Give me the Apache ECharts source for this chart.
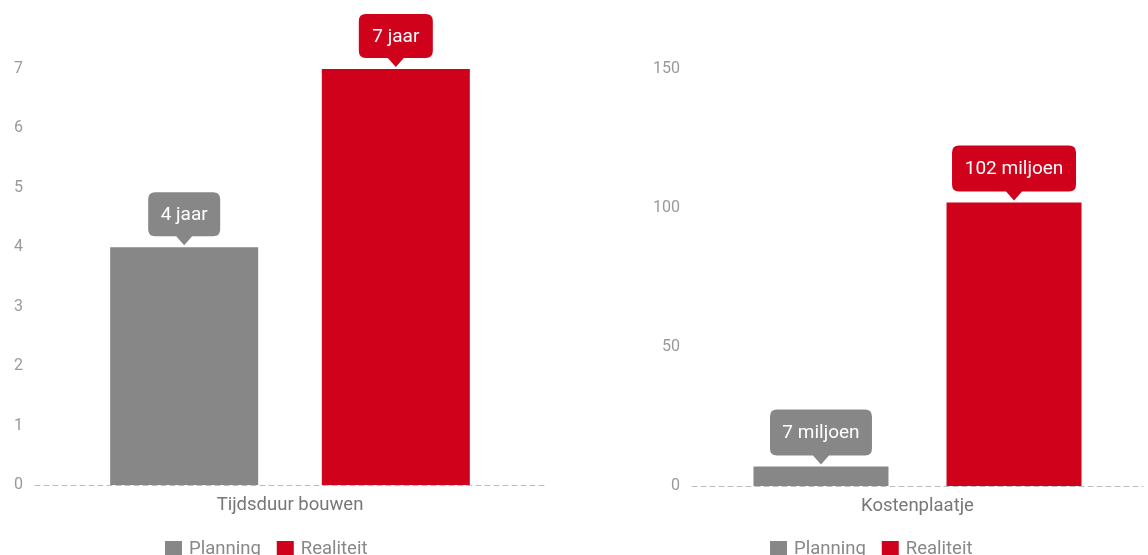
<!DOCTYPE html>
<html>
<head>
<meta charset="utf-8">
<script src="https://cdn.jsdelivr.net/npm/echarts@6/dist/echarts.min.js"></script>
<style>
  html, body { margin: 0; padding: 0; background: #fff; }
  #chart { width: 1148px; height: 555px; }
</style>
</head>
<body>
<div id="chart"></div>
<script>
const seriesNames = ['Planning', 'Realiteit']
const leftCategories = ['Tijdsduur bouwen']
const rightCategories = ['Kostenplaatje']
const leftValues = [4, 7]
const rightValues = [7, 102]
const leftLabels = ['4 jaar', '7 jaar']
const rightLabels = ['7 miljoen', '102 miljoen']
const leftTicks = [0, 1, 2, 3, 4, 5, 6, 7]
const rightTicks = [0, 50, 100, 150]

const colors = ['#878787', '#d0021b']
const font = 'Roboto, "Liberation Sans", Arial, sans-serif'

// ballon met puntje onderaan
function bubble(w, h, tail) {
  const r = 7
  const tw = 8
  const cx = w / 2
  return 'path://M' + r + ',0 L' + (w - r) + ',0 Q' + w + ',0 ' + w + ',' + r +
    ' L' + w + ',' + (h - r) + ' Q' + w + ',' + h + ' ' + (w - r) + ',' + h +
    ' L' + (cx + tw) + ',' + h + ' L' + cx + ',' + (h + tail) + ' L' + (cx - tw) + ',' + h +
    ' L' + r + ',' + h + ' Q0,' + h + ' 0,' + (h - r) + ' L0,' + r + ' Q0,0 ' + r + ',0 Z'
}

function markPoint(text, color, w, h) {
  const tail = 9
  return {
    symbol: bubble(w, h, tail),
    symbolSize: [w, h + tail],
    symbolKeepAspect: false,
    symbolOffset: [0, -(h + tail) / 2 - 2],
    itemStyle: { color: color },
    label: {
      show: true,
      position: 'inside',
      offset: [0, -tail / 2 + 1],
      formatter: text,
      color: '#fff',
      fontSize: 19,
      fontFamily: font
    },
    data: [{ type: 'max' }]
  }
}

const chart = echarts.init(document.getElementById('chart'))

const axisCommon = {
  yAxis: {
    type: 'value',
    axisLine: { show: false },
    axisTick: { show: false },
    splitLine: { show: false },
    axisLabel: { color: '#9a9a9a', fontSize: 16, fontFamily: font, margin: 12 }
  },
  xAxis: {
    type: 'category',
    axisTick: { show: false },
    axisLine: { lineStyle: { color: '#bdbdbd', type: [5, 4], width: 1 } },
    axisLabel: { color: '#777', fontSize: 18.5, fontFamily: font, margin: 11 }
  }
}

const leftSizes = [[72, 44], [74, 44]]
const rightSizes = [[102, 46], [124, 46]]

const series = []
seriesNames.forEach((name, i) => {
  series.push({
    name: name,
    type: 'bar',
    xAxisIndex: 0,
    yAxisIndex: 0,
    data: [leftValues[i]],
    barWidth: 148,
    barGap: '43%',
    itemStyle: { color: colors[i] },
    markPoint: markPoint(leftLabels[i], colors[i], leftSizes[i][0], leftSizes[i][1])
  })
})
seriesNames.forEach((name, i) => {
  series.push({
    name: name,
    type: 'bar',
    xAxisIndex: 1,
    yAxisIndex: 1,
    data: [rightValues[i]],
    barWidth: 135,
    barGap: '43%',
    itemStyle: { color: colors[i] },
    markPoint: markPoint(rightLabels[i], colors[i], rightSizes[i][0], rightSizes[i][1])
  })
})

const legendCommon = {
  data: seriesNames,
  top: 535,
  icon: 'rect',
  itemWidth: 17,
  itemHeight: 17,
  itemGap: 16,
  selectedMode: false,
  textStyle: { color: '#888', fontSize: 18.5, fontFamily: font, padding: [0, 0, 0, 2] }
}

const option = {
  animation: false,
  color: colors,
  legend: [
    Object.assign({}, legendCommon, { left: 160 }),
    Object.assign({}, legendCommon, { left: 765 })
  ],
  grid: [
    { left: 35, right: 1148 - 545, top: 69, bottom: 70 },
    { left: 692, right: 5, top: 69, bottom: 69 }
  ],
  xAxis: [
    Object.assign({}, axisCommon.xAxis, { gridIndex: 0, data: leftCategories }),
    Object.assign({}, axisCommon.xAxis, { gridIndex: 1, data: rightCategories })
  ],
  yAxis: [
    Object.assign({}, axisCommon.yAxis, {
      gridIndex: 0, min: leftTicks[0], max: leftTicks[leftTicks.length - 1], interval: leftTicks[1] - leftTicks[0]
    }),
    Object.assign({}, axisCommon.yAxis, {
      gridIndex: 1, min: rightTicks[0], max: rightTicks[rightTicks.length - 1], interval: rightTicks[1] - rightTicks[0]
    })
  ],
  series: series
}

chart.setOption(option)
</script>
</body>
</html>
